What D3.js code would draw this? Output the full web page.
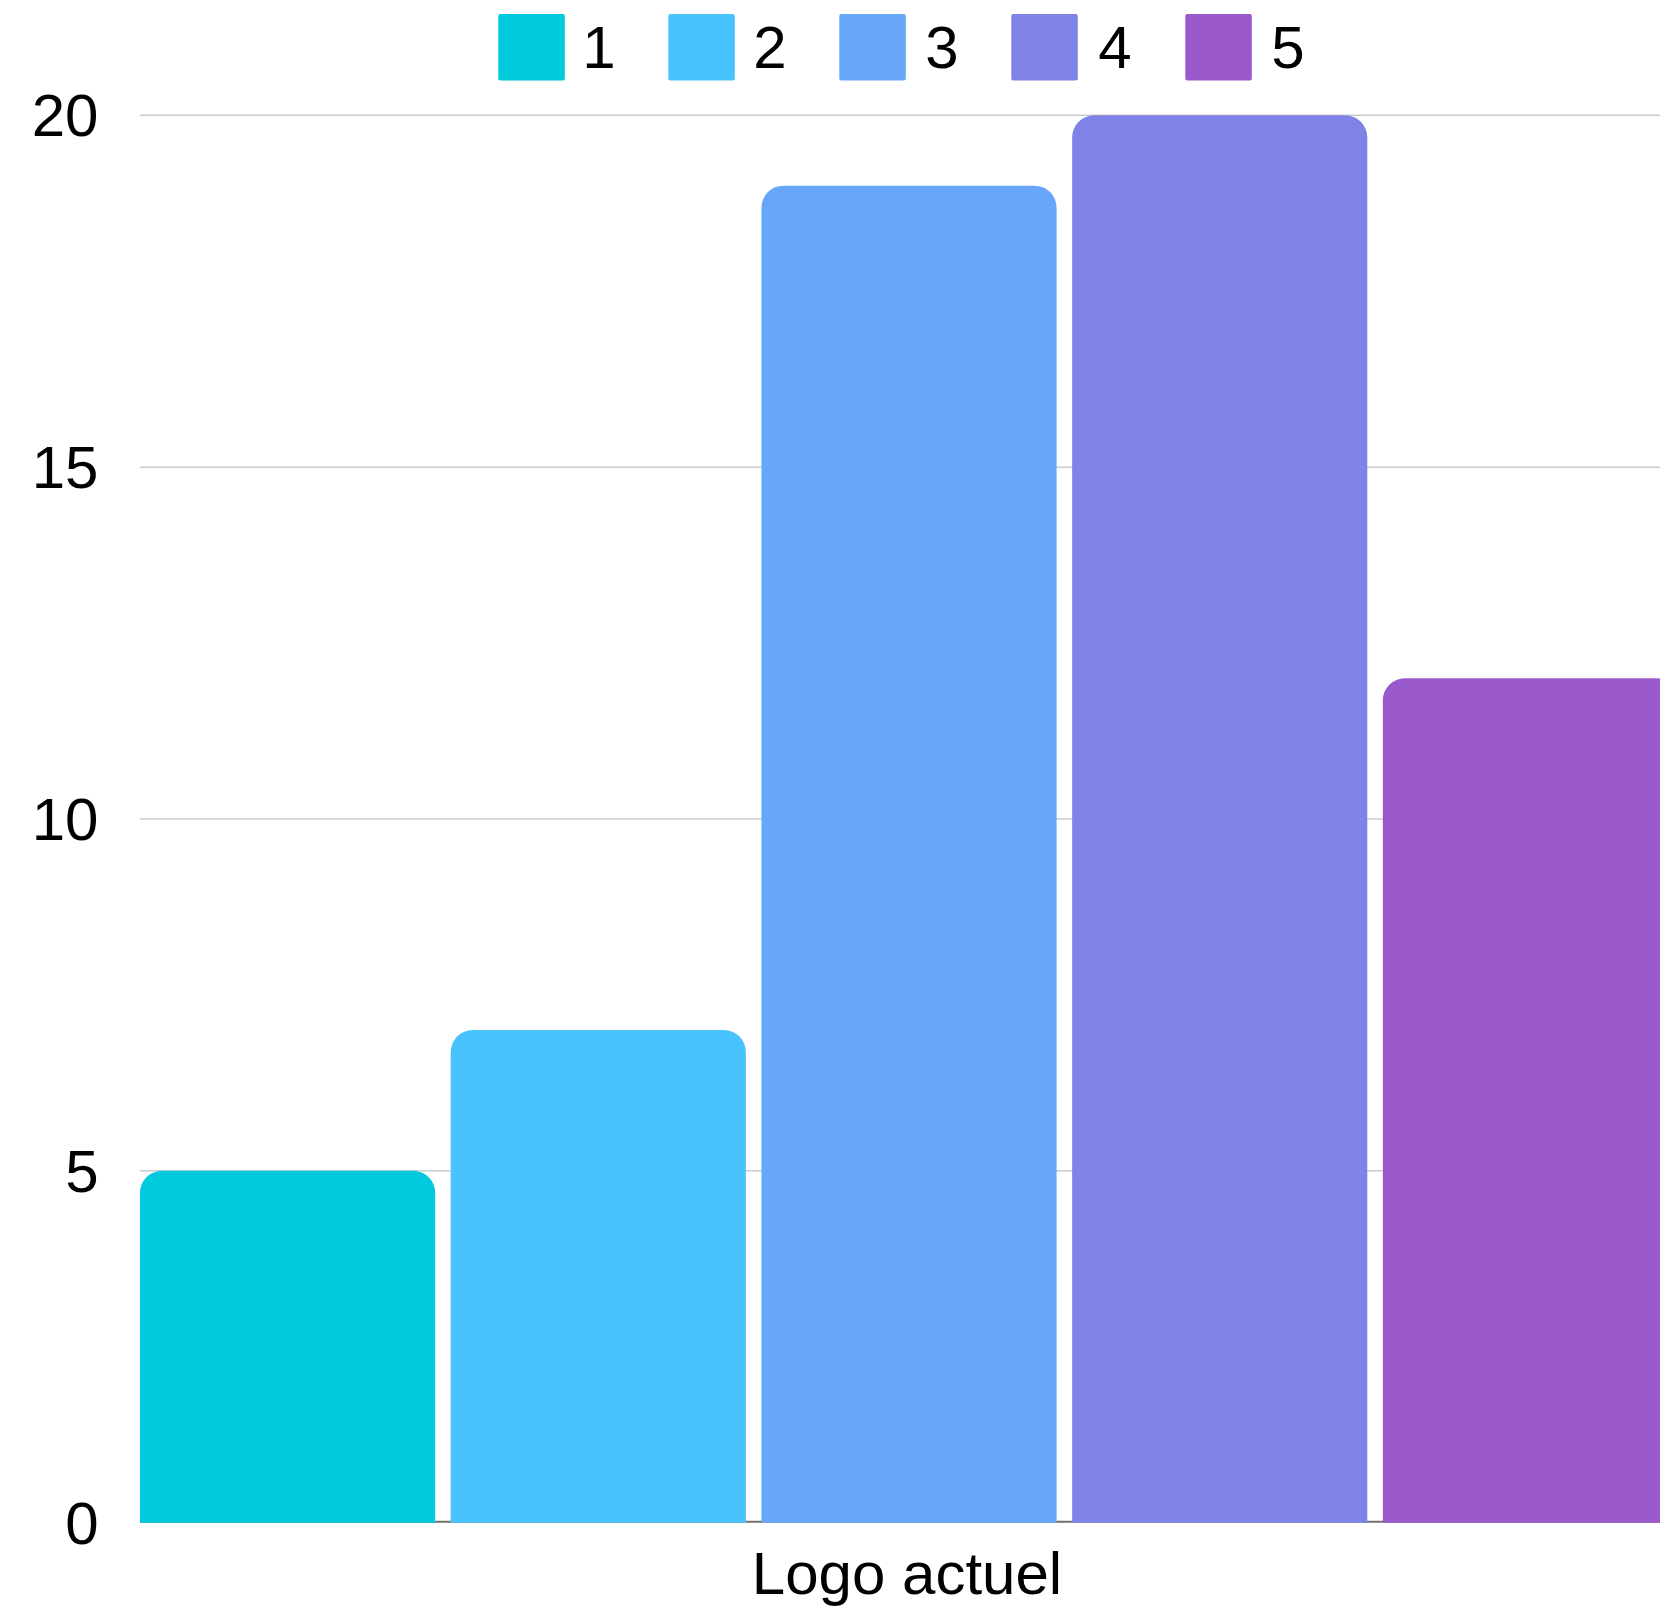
<!DOCTYPE html>
<html>
<head>
<meta charset="utf-8">
<script src="https://cdn.jsdelivr.net/npm/d3@7"></script>
<style>
  html, body { margin: 0; padding: 0; background: #ffffff; }
  svg { display: block; }
</style>
</head>
<body>
<svg id="chart" width="1660" height="1606"></svg>
<script>
// ---- data ----
const category = "Logo actuel";
const seriesNames = ["1", "2", "3", "4", "5"];
const seriesValues = [5, 7, 19, 20, 12];
const seriesColors = ["#00CADB", "#48C3FD", "#67A6F8", "#8083E6", "#9A59CA"];
const yTicks = [0, 5, 10, 15, 20];

// ---- layout ----
const W = 1660, H = 1606;
const plotLeft = 140, plotRight = 1678, plotTop = 115.3, plotBottom = 1522.7;
const numFont = "'Liberation Sans', Arial, sans-serif";
const fontSize = 60;
const radius = 22;

const svg = d3.select("#chart");

const y = d3.scaleLinear().domain([0, 20]).range([plotBottom, plotTop]);
const x = d3.scaleBand().domain(seriesNames).range([plotLeft, plotRight])
  .paddingInner(0.05).paddingOuter(0);

// gridlines
svg.append("g").selectAll("line").data(yTicks.filter(d => d > 0)).join("line")
  .attr("x1", plotLeft).attr("x2", W)
  .attr("y1", d => y(d)).attr("y2", d => y(d))
  .attr("stroke", "#cccccc").attr("stroke-width", 1.5);

// baseline axis
svg.append("line")
  .attr("x1", plotLeft).attr("x2", W)
  .attr("y1", y(0) - 1).attr("y2", y(0) - 1)
  .attr("stroke", "#6f6f6f").attr("stroke-width", 2);

// y tick labels
svg.append("g").selectAll("text").data(yTicks).join("text")
  .attr("x", 98.5).attr("y", d => y(d)).attr("dy", "0.35em")
  .attr("text-anchor", "end")
  .attr("font-family", numFont).attr("font-size", fontSize).attr("fill", "#000")
  .text(d => d);

// bars with rounded top corners
function barPath(x0, w, yTop, yBase, r) {
  const rr = Math.min(r, w / 2, yBase - yTop);
  return `M${x0},${yBase}V${yTop + rr}A${rr},${rr} 0 0 1 ${x0 + rr},${yTop}` +
         `H${x0 + w - rr}A${rr},${rr} 0 0 1 ${x0 + w},${yTop + rr}V${yBase}Z`;
}
const bars = seriesNames.map((n, i) => ({ name: n, value: seriesValues[i], color: seriesColors[i] }));
svg.append("g").selectAll("path").data(bars).join("path")
  .attr("d", d => barPath(x(d.name), x.bandwidth(), y(d.value), y(0), radius))
  .attr("fill", d => d.color);

// category label
svg.append("text")
  .attr("x", (plotLeft + plotRight) / 2 - 2).attr("y", 1594)
  .attr("text-anchor", "middle")
  .attr("font-family", numFont).attr("font-size", fontSize).attr("fill", "#000")
  .text(category);

// legend (laid out from ink widths)
const ctx = document.createElement("canvas").getContext("2d");
ctx.font = `${fontSize}px ${numFont}`;
const sq = 66.5, gapSqText = 21.5, gapTextSq = 55;
let cx = 498.3;
const legend = svg.append("g");
bars.forEach(d => {
  const m = ctx.measureText(d.name);
  legend.append("rect")
    .attr("x", cx).attr("y", 14).attr("width", sq).attr("height", sq)
    .attr("rx", 2).attr("fill", d.color);
  const inkLeft = cx + sq + gapSqText;
  legend.append("text")
    .attr("x", inkLeft + m.actualBoundingBoxLeft).attr("y", 68)
    .attr("font-family", numFont).attr("font-size", fontSize).attr("fill", "#000")
    .text(d.name);
  const inkW = m.actualBoundingBoxLeft + m.actualBoundingBoxRight;
  cx = inkLeft + inkW + gapTextSq;
});
</script>
</body>
</html>
